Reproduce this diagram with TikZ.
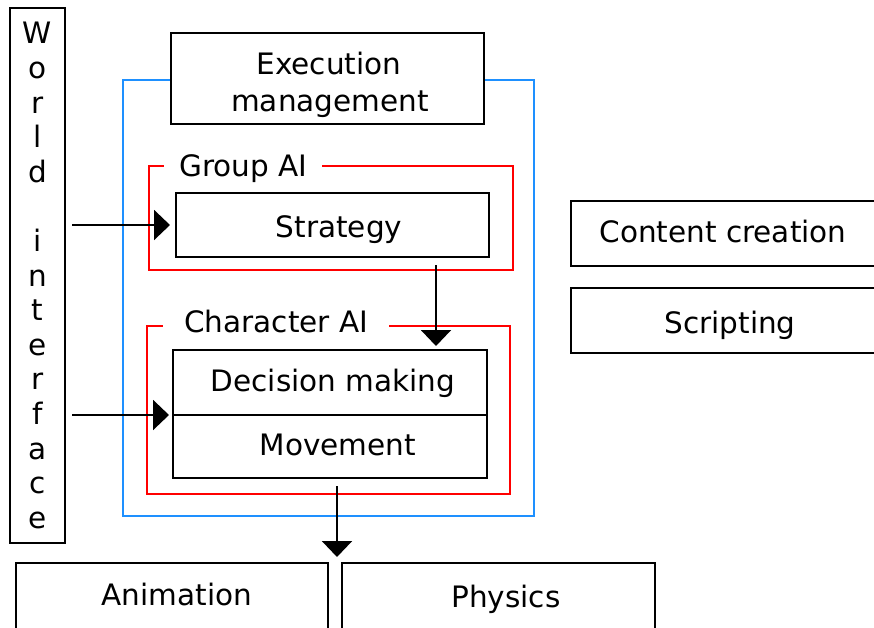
\documentclass[tikz,border=0pt]{standalone}
\usepackage{fontspec}
\setmainfont{DejaVu Sans}
\usetikzlibrary{arrows.meta}
\definecolor{aiblue}{RGB}{30,144,255}
\definecolor{aired}{RGB}{255,0,0}
\begin{document}
\begin{tikzpicture}[x=1pt,y=-1pt,
  box/.style={draw=black, line width=2.8pt, rectangle, inner sep=0pt, outer sep=0pt},
  frame/.style={line width=2.3pt, rectangle, inner sep=0pt, outer sep=0pt},
  txt/.style={font=\fontsize{29.5}{34.6}\selectfont, inner sep=0pt, anchor=base},
  tag/.style={txt, fill=white, anchor=base west, inner xsep=15pt, inner ysep=3pt},
  arr/.style={line width=2.2pt, -{Triangle[length=16pt,width=30pt]}}]

\useasboundingbox (0,0) rectangle (874,627);
\fill[white] (0,0) rectangle (874,627);
\clip (0,0) rectangle (874,627);

% AI engine frame with execution management on its top edge
\node[frame, draw=aiblue, minimum width=411pt, minimum height=436pt] (engine) at (328.5,298) {};
\node[box, fill=white, minimum width=313pt, minimum height=91pt] (exec) at (327.5,78.5) {};
\node[txt] (execA) at (329,74) {Execution};
\node[txt] (execB) at (330,111) {management};

% group AI
\node[frame, draw=aired, minimum width=364pt, minimum height=104pt] (group) at (331,218) {};
\node[tag] (groupT) at (164,176) {Group AI};
\node[box, minimum width=313pt, minimum height=64pt] (strat) at (332.5,225) {};
\node[txt] (stratT) at (339,237) {Strategy};

% character AI
\node[frame, draw=aired, minimum width=363pt, minimum height=168pt] (charai) at (328.5,410) {};
\node[tag, inner xsep=21pt] (charT) at (163,332) {Character AI};
\node[box, minimum width=314pt, minimum height=65pt] (decide) at (330,382.5) {};
\node[box, minimum width=314pt, minimum height=63pt] (move) at (330,446.5) {};
\node[txt] (decideT) at (333,391) {Decision making};
\node[txt] (moveT) at (338,455) {Movement};

% world interface column
\node[box, minimum width=55pt, minimum height=535pt, align=center,
      font=\fontsize{29.5}{34.6}\selectfont] (world) at (37.5,275.5)
  {W\\o\\r\\l\\d\\\mbox{}\\i\\n\\t\\e\\r\\f\\a\\c\\e};

% output systems
\node[box, minimum width=312pt, minimum height=97pt] (anim) at (172,611.5) {};
\node[box, minimum width=313pt, minimum height=97pt] (phys) at (498.5,611.5) {};
\node[txt] (animT) at (177,605) {Animation};
\node[txt] (physT) at (506,607) {Physics};

% tools
\node[box, minimum width=329pt, minimum height=65pt] (content) at (735.5,233.5) {};
\node[box, minimum width=329pt, minimum height=65pt] (script) at (735.5,320.5) {};
\node[txt] (contentT) at (723,242) {Content creation};
\node[txt] (scriptT) at (730,333) {Scripting};

% connectors
\coordinate (dropA) at (436,0);
\coordinate (dropB) at (337,0);
\draw[arr, shorten <=7pt, shorten >=6pt] (world.east |- strat.west) -- (strat.west);
\draw[arr, shorten <=7pt, shorten >=4pt] (world.east |- move.north west) -- (move.north west);
\draw[arr, shorten <=8pt, shorten >=4pt] (strat.south -| dropA) -- (decide.north -| dropA);
\draw[arr, shorten <=8pt, shorten >=6pt] (move.south -| dropB) -- (anim.north -| dropB);
\end{tikzpicture}
\end{document}
